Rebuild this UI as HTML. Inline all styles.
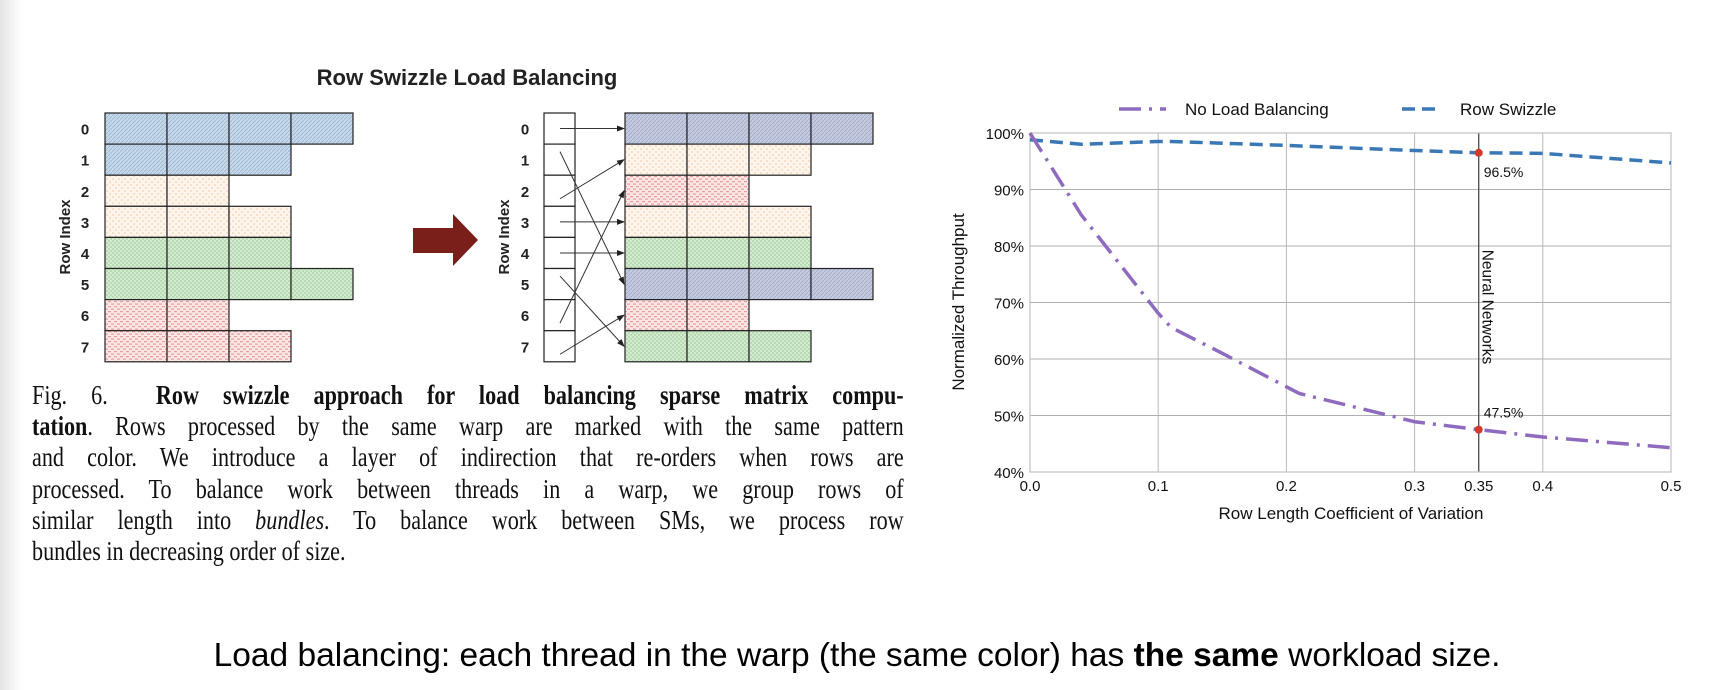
<!DOCTYPE html>
<html><head><meta charset="utf-8">
<style>
body{margin:0;width:1728px;height:690px;background:#fff;position:relative;overflow:hidden;font-family:"Liberation Sans",sans-serif;}
.shade{position:absolute;left:0;top:0;width:22px;height:690px;background:linear-gradient(to right,#e4e4e4,#fff);}
.cap{position:absolute;left:32px;top:380px;width:1063px;transform:scaleX(0.82);transform-origin:0 0;font-family:"Liberation Serif",serif;font-size:27px;line-height:31.2px;color:#111;}
.cap div{text-align:justify;text-align-last:justify;white-space:nowrap;}
.cap div.last{text-align-last:left;}
.bottom{position:absolute;left:0;width:1714px;top:637px;text-align:center;font-size:33.5px;color:#000;}
</style></head>
<body>
<div class="shade"></div>
<svg width="1728" height="690" style="position:absolute;left:0;top:0">
<defs>
<pattern id="pBlue" width="4" height="4" patternUnits="userSpaceOnUse"><rect width="4" height="4" fill="#c6d9ec"/><path d="M0 4L4 0" stroke="#9db5d0" stroke-width="0.8"/></pattern>
<pattern id="pSlate" width="4" height="4" patternUnits="userSpaceOnUse"><rect width="4" height="4" fill="#c4cbe0"/><path d="M0 4L4 0" stroke="#a0a9c6" stroke-width="0.8"/></pattern>
<pattern id="pOrange" width="6" height="6" patternUnits="userSpaceOnUse"><rect width="6" height="6" fill="#fdf5ec"/><circle cx="2" cy="2" r="0.8" fill="#f0c79a"/><circle cx="5" cy="5" r="0.8" fill="#f0c79a"/></pattern>
<pattern id="pGreen" width="4" height="4" patternUnits="userSpaceOnUse"><rect width="4" height="4" fill="#d3ebd0"/><rect width="2" height="2" fill="#b8dab3"/><rect x="2" y="2" width="2" height="2" fill="#b8dab3"/></pattern>
<pattern id="pRed" width="6" height="5" patternUnits="userSpaceOnUse"><rect width="6" height="5" fill="#fbe6e6"/><rect x="0" y="1" width="3" height="1.2" fill="#e79a9a"/><rect x="3" y="3.5" width="3" height="1.2" fill="#e79a9a"/></pattern>
<marker id="ah" markerWidth="8" markerHeight="8" refX="7" refY="4" orient="auto" markerUnits="userSpaceOnUse"><path d="M0 1L8 4L0 7z" fill="#222"/></marker>
</defs>
<text x="467" y="85" text-anchor="middle" font-size="22" font-weight="bold" fill="#222">Row Swizzle Load Balancing</text>
<g id="leftGrid"></g>
<g id="rightGrid"></g>
<text transform="translate(70,237) rotate(-90)" text-anchor="middle" font-size="15" font-weight="bold" fill="#222">Row Index</text>
<text transform="translate(509,237) rotate(-90)" text-anchor="middle" font-size="15" font-weight="bold" fill="#222">Row Index</text>
<path d="M413 228H453V214L478 240L453 266V253H413Z" fill="#7b1f1a"/>
<g id="arrows"></g>
<g id="chart"></g>
</svg>
<div class="cap">
<div>Fig. 6.&nbsp; <b>Row swizzle approach for load balancing sparse matrix compu-</b></div>
<div><b>tation</b>. Rows processed by the same warp are marked with the same pattern</div>
<div>and color. We introduce a layer of indirection that re-orders when rows are</div>
<div>processed. To balance work between threads in a warp, we group rows of</div>
<div>similar length into <i>bundles</i>. To balance work between SMs, we process row</div>
<div class="last">bundles in decreasing order of size.</div>
</div>
<div class="bottom">Load balancing: each thread in the warp (the same color) has <b>the same</b> workload size.</div>
<script>
const NS="http://www.w3.org/2000/svg";
function mk(p,t,a){const e=document.createElementNS(NS,t);for(const k in a)e.setAttribute(k,a[k]);p.appendChild(e);return e;}
const leftLens=[4,3,2,3,3,4,2,3];
const leftFill=["pBlue","pBlue","pOrange","pOrange","pGreen","pGreen","pRed","pRed"];
const rightLens=[4,3,2,3,3,4,2,3];
const rightFill=["pSlate","pOrange","pRed","pOrange","pGreen","pSlate","pRed","pGreen"];
const mapping=[[0,0],[1,5],[2,1],[3,3],[4,4],[5,7],[6,2],[7,6]];
const top0=113,rh=31.1,cw=62;
function grid(g,x0,lens,fills,lx){
 lens.forEach((n,i)=>{const y=top0+i*rh;
  for(let c=0;c<n;c++){const r=mk(g,'rect',{x:x0+c*cw,y:y,width:cw,height:rh,fill:'url(#'+fills[i]+')',stroke:'#222','stroke-width':1.2});
   
   }
  const t=mk(g,'text',{x:lx,y:y+rh/2+6,'text-anchor':'middle','font-size':15,'font-weight':'bold',fill:'#222'});t.textContent=i;
  
  
 });}
grid(document.getElementById('leftGrid'),105,leftLens,leftFill,85);
grid(document.getElementById('rightGrid'),625,rightLens,rightFill,525);
const ar=document.getElementById('arrows');
for(let i=0;i<8;i++){const b=mk(ar,'rect',{x:544,y:top0+i*rh,width:31,height:rh,fill:'#fff',stroke:'#222','stroke-width':1.2});
 
 }
mapping.forEach(([s,d])=>{let sy=top0+s*rh+rh/2;if(s!==d)sy+= (d>s?-8:8);
 const l=mk(ar,'line',{x1:560,y1:sy,x2:624,y2:top0+d*rh+rh/2,stroke:'#333','stroke-width':1,'marker-end':'url(#ah)'});
 
 });

// chart
const xs=[0,0.04,0.1,0.11,0.2,0.3,0.35,0.4,0.5];
const swizzle=[98.8,98.0,98.5,98.5,97.8,96.9,96.5,96.4,94.7];
const noLbX=[0,0.04,0.1,0.11,0.15,0.21,0.3,0.35,0.4,0.5];
const noLb=[100,85.5,68.1,65.6,61,53.9,48.9,47.5,46.2,44.3];
const xTicks=[0,0.1,0.2,0.3,0.35,0.4,0.5];
const xTickLabels=["0.0","0.1","0.2","0.3","0.35","0.4","0.5"];
const yTicks=[40,50,60,70,80,90,100];
const marks=[[0.35,96.5,"96.5%"],[0.35,47.5,"47.5%"]];
const L=1030,R=1671,T=133,B=472;
const X=v=>L+(v-0)/(0.5)*(R-L), Y=v=>B-(v-40)/60*(B-T);
const ch=document.getElementById('chart');
yTicks.forEach(v=>{const l=mk(ch,'line',{x1:L,x2:R,y1:Y(v),y2:Y(v),stroke:'#b0b0b0','stroke-width':1});
 
 const t=mk(ch,'text',{x:L-6,y:Y(v)+6,'text-anchor':'end','font-size':15,fill:'#111'});t.textContent=v+'%';
 });
xTicks.forEach((v,i)=>{const l=mk(ch,'line',{x1:X(v),x2:X(v),y1:T,y2:B,stroke:v===0.35?'#555':'#b8b8b8','stroke-width':v===0.35?1.4:1});
 
 const t=mk(ch,'text',{x:X(v),y:B+19,'text-anchor':'middle','font-size':15,fill:'#111'});t.textContent=xTickLabels[i];
 });
const fr=mk(ch,'rect',{x:L,y:T,width:R-L,height:B-T,fill:'none',stroke:'#c0c0c0','stroke-width':1.2});

function line(xv,yv,col,dash,name){const p=mk(ch,'polyline',{points:xv.map((x,i)=>X(x)+','+Y(yv[i])).join(' '),fill:'none',stroke:col,'stroke-width':3.5,'stroke-dasharray':dash});
 }
line(xs,swizzle,'#3a78b5','13 7','row-swizzle-line');
line(noLbX,noLb,'#8f6bbf','22 8 3 8','no-load-balancing-line');
marks.forEach(([x,y,s],i)=>{const c=mk(ch,'circle',{cx:X(x),cy:Y(y),r:4,fill:'#d03a2a'});
 
 const t=mk(ch,'text',{x:X(x)+5,y:i===0?Y(y)+24:Y(y)-12,'font-size':14,fill:'#111'});t.textContent=s;
 });
const nn=mk(ch,'text',{transform:'translate('+(X(0.35)+4)+',307) rotate(90)','text-anchor':'middle','font-size':15.5,fill:'#111'});nn.textContent='Neural Networks';

const xt=mk(ch,'text',{x:1351,y:519,'text-anchor':'middle','font-size':17,fill:'#111'});xt.textContent='Row Length Coefficient of Variation';

const yt=mk(ch,'text',{transform:'translate(964,302) rotate(-90)','text-anchor':'middle','font-size':17,fill:'#111'});yt.textContent='Normalized Throughput';

const lg1=mk(ch,'line',{x1:1119,x2:1166,y1:109,y2:109,stroke:'#8f6bbf','stroke-width':3.5,'stroke-dasharray':'22 8 3 8'});

const lt1=mk(ch,'text',{x:1185,y:115,'font-size':17,fill:'#111'});lt1.textContent='No Load Balancing';

const lg2=mk(ch,'line',{x1:1402,x2:1440,y1:109,y2:109,stroke:'#3a78b5','stroke-width':3.5,'stroke-dasharray':'13 7'});

const lt2=mk(ch,'text',{x:1460,y:115,'font-size':17,fill:'#111'});lt2.textContent='Row Swizzle';

</script>
</body></html>
